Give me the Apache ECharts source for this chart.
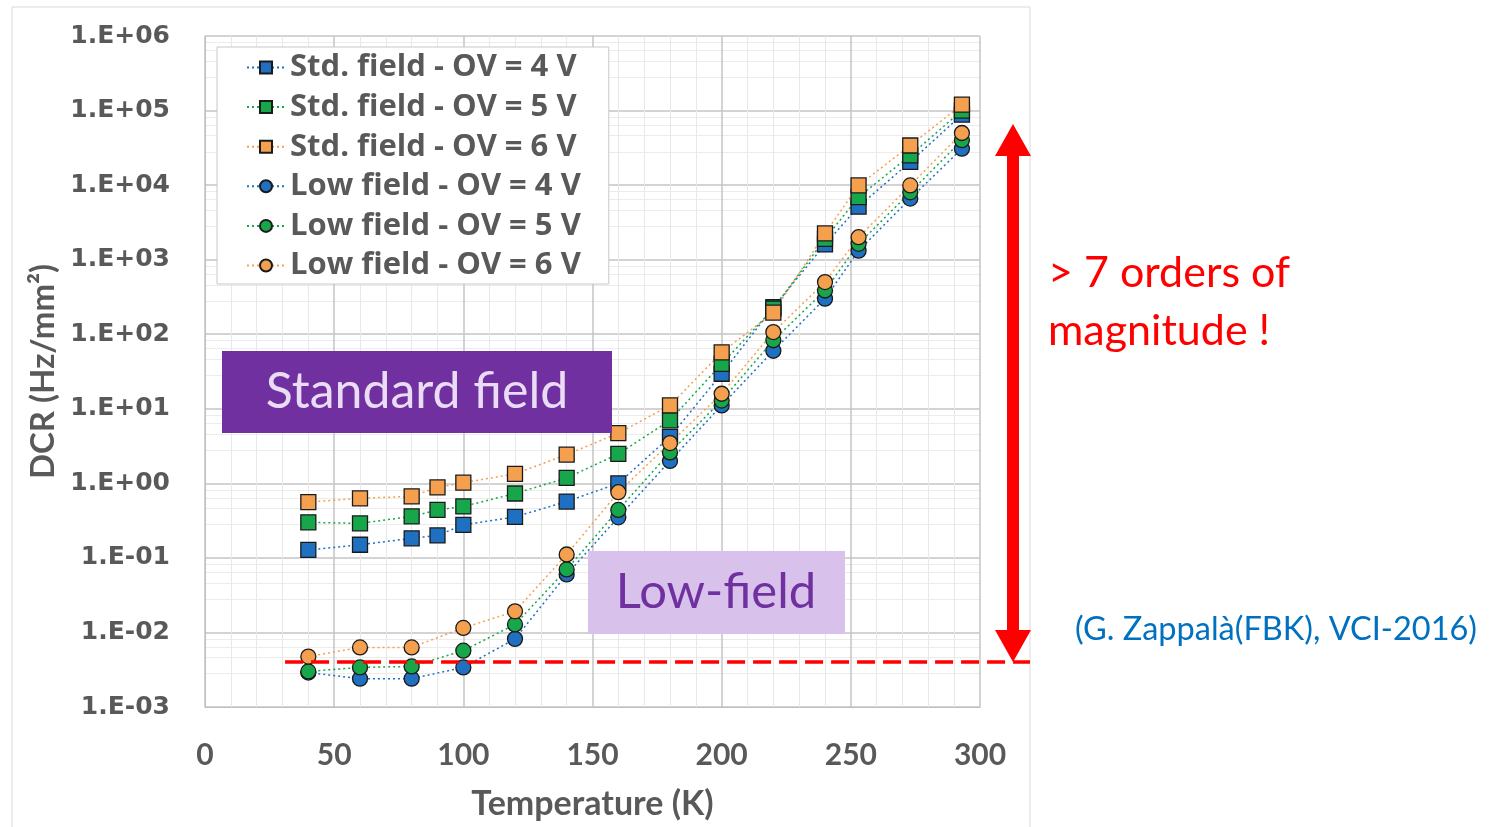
<!DOCTYPE html>
<html>
<head>
<meta charset="utf-8">
<script src="https://cdn.jsdelivr.net/npm/echarts@6/dist/echarts.min.js"></script>
<style>
  html, body { margin: 0; padding: 0; background: #fff; }
  #main { width: 1491px; height: 827px; }
</style>
</head>
<body>
<div id="main"></div>
<script>
// temperatures (K)
var stdTemps = [40, 60, 80, 90, 100, 120, 140, 160, 180, 200, 220, 240, 253, 273, 293];
var lowTemps = [40, 60, 80, 100, 120, 140, 160, 180, 200, 220, 240, 253, 273, 293];

// DCR (Hz/mm2), standard field
var std4 = [0.128, 0.15, 0.183, 0.20, 0.277, 0.355, 0.57, 1.0, 4.2, 29.5, 230, 1600, 5150, 20500, 88000];
var std5 = [0.30, 0.29, 0.36, 0.44, 0.49, 0.73, 1.18, 2.48, 7.0, 40, 220, 1900, 6900, 25000, 100000];
var std6 = [0.56, 0.63, 0.67, 0.88, 1.02, 1.34, 2.43, 4.7, 11.1, 57, 195, 2250, 9900, 34000, 120000];
// DCR (Hz/mm2), low field
var low4 = [0.0029, 0.0024, 0.0024, 0.0034, 0.0082, 0.060, 0.35, 2.0, 11.1, 60, 300, 1320, 6600, 30800];
var low5 = [0.0030, 0.0034, 0.0035, 0.0057, 0.0128, 0.070, 0.44, 2.6, 12.9, 83, 386, 1630, 8000, 40000];
var low6 = [0.00475, 0.0063, 0.0063, 0.0115, 0.0192, 0.111, 0.76, 3.47, 15.9, 107, 500, 2000, 9900, 50000];

var seriesNames = ['Std. field - OV = 4 V', 'Std. field - OV = 5 V', 'Std. field - OV = 6 V',
                   'Low field - OV = 4 V', 'Low field - OV = 5 V', 'Low field - OV = 6 V'];
var floorLevel = 0.004;

var colors = ['#1f70c1', '#17a74a', '#f5a04f'];

function pair(xs, ys) {
    var out = [];
    for (var i = 0; i < ys.length; i++) out.push([xs[i], ys[i]]);
    return out;
}

function makeSeries(name, xs, ys, color, symbol) {
    return {
        name: name,
        type: 'line',
        data: pair(xs, ys),
        symbol: symbol,
        symbolSize: 15,
        showAllSymbol: true,
        lineStyle: { color: color, width: 1.5, type: [2, 3] },
        itemStyle: { color: color, borderColor: '#1a1a1a', borderWidth: 1.3 },
        emphasis: { disabled: true },
        animation: false
    };
}

var myChart = echarts.init(document.getElementById('main'));
var gray = '#595959';

var option = {
    backgroundColor: '#fff',
    animation: false,
    grid: { left: 205, right: 511, top: 36, bottom: 120, outerBoundsMode: 'none', containLabel: false },
    legend: {
        orient: 'vertical',
        left: 217, top: 47,
        padding: [5, 28, 3, 29],
        itemGap: 8.6,
        itemWidth: 38, itemHeight: 15,
        backgroundColor: '#fff',
        borderColor: '#c8c8c8', borderWidth: 1,
        textStyle: { fontFamily: 'Open Sans', fontWeight: 'bold', fontSize: 31, color: gray, lineHeight: 31 },
        data: seriesNames
    },
    xAxis: {
        type: 'value', min: 0, max: 300, interval: 50,
        name: 'Temperature (K)', nameLocation: 'middle', nameGap: 80,
        nameTextStyle: { fontFamily: 'Lato', fontWeight: 'bold', fontSize: 34, color: gray },
        axisLine: { lineStyle: { color: '#bfbfbf' } },
        axisTick: { show: false },
        axisLabel: { margin: 33, fontFamily: 'Lato', fontWeight: 'bold', fontSize: 30, color: gray },
        splitLine: { show: true, lineStyle: { color: '#c4c4c4', width: 1.5 } },
        minorTick: { show: false, splitNumber: 5 },
        minorSplitLine: { show: true, lineStyle: { color: '#e8e8e8' } }
    },
    yAxis: {
        type: 'log', logBase: 10, min: 0.001, max: 1e6,
        name: 'DCR (Hz/mm\u00b2)', nameLocation: 'middle', nameGap: 142, nameRotate: 90,
        nameTextStyle: { fontFamily: 'Lato', fontWeight: 'bold', fontSize: 33, color: gray },
        axisLine: { show: true, lineStyle: { color: '#bfbfbf' } },
        axisTick: { show: false },
        axisLabel: {
            margin: 35, fontFamily: 'DejaVu Sans', fontWeight: 'bold', fontSize: 25, color: gray,
            formatter: function (v) {
                var e = Math.round(Math.log(v) / Math.LN10);
                var s = Math.abs(e) < 10 ? '0' + Math.abs(e) : '' + Math.abs(e);
                return '1.E' + (e < 0 ? '-' : '+') + s;
            }
        },
        splitLine: { show: true, lineStyle: { color: '#c4c4c4', width: 1.5 } },
        minorTick: { show: false, splitNumber: 5 },
        minorSplitLine: { show: true, lineStyle: { color: '#ececec' } }
    },
    series: [
        makeSeries(seriesNames[0], stdTemps, std4, colors[0], 'rect'),
        makeSeries(seriesNames[1], stdTemps, std5, colors[1], 'rect'),
        makeSeries(seriesNames[2], stdTemps, std6, colors[2], 'rect'),
        makeSeries(seriesNames[3], lowTemps, low4, colors[0], 'circle'),
        makeSeries(seriesNames[4], lowTemps, low5, colors[1], 'circle'),
        makeSeries(seriesNames[5], lowTemps, low6, colors[2], 'circle')
    ]
};
myChart.setOption(option);

// annotations, placed after the axes exist
var yFloor = myChart.convertToPixel({ yAxisIndex: 0 }, floorLevel);
var xFloorStart = myChart.convertToPixel({ xAxisIndex: 0 }, 31);

myChart.setOption({
    graphic: [
        // outer frame of the chart
        { type: 'rect', shape: { x: 12, y: 7, width: 1018, height: 830 },
          style: { fill: 'none', stroke: '#d9d9d9', lineWidth: 1 }, silent: true, z: -1 },
        // boxes
        { type: 'rect', shape: { x: 222, y: 351, width: 390, height: 82 },
          style: { fill: '#7030a0' }, z: 100 },
        { type: 'text', x: 417, y: 392, z: 101,
          style: { text: 'Standard field', fill: '#eadcf5', font: '50px Lato', align: 'center', verticalAlign: 'middle' } },
        { type: 'rect', shape: { x: 588, y: 551, width: 257, height: 83 },
          style: { fill: '#d8c2ec' }, z: 100 },
        { type: 'text', x: 716, y: 592, z: 101,
          style: { text: 'Low-field', fill: '#7030a0', font: '49px Lato', align: 'center', verticalAlign: 'middle' } },
        // floor line
        { type: 'line', shape: { x1: xFloorStart, y1: yFloor, x2: 1030, y2: yFloor }, z: 100,
          style: { stroke: '#ff0000', lineWidth: 3.5, lineDash: [18, 8] } },
        // double arrow
        { type: 'polygon', z: 100,
          shape: { points: [[1013, 124], [1031, 156], [1019, 156], [1019, 630], [1031, 630], [1013, 662],
                            [995, 630], [1007, 630], [1007, 156], [995, 156]] },
          style: { fill: '#ff0000' } },
        { type: 'text', x: 1048, y: 273, z: 101,
          style: { text: '> 7 orders of', fill: '#ff0000', font: '43px Lato', verticalAlign: 'middle' } },
        { type: 'text', x: 1048, y: 331, z: 101,
          style: { text: 'magnitude !', fill: '#ff0000', font: '43px Lato', verticalAlign: 'middle' } },
        { type: 'text', x: 1075, y: 630, z: 101,
          style: { text: '(G. Zappal\u00e0(FBK), VCI-2016)', fill: '#0070c0', font: '32.5px Lato', verticalAlign: 'middle' } }
    ]
});
</script>
</body>
</html>
